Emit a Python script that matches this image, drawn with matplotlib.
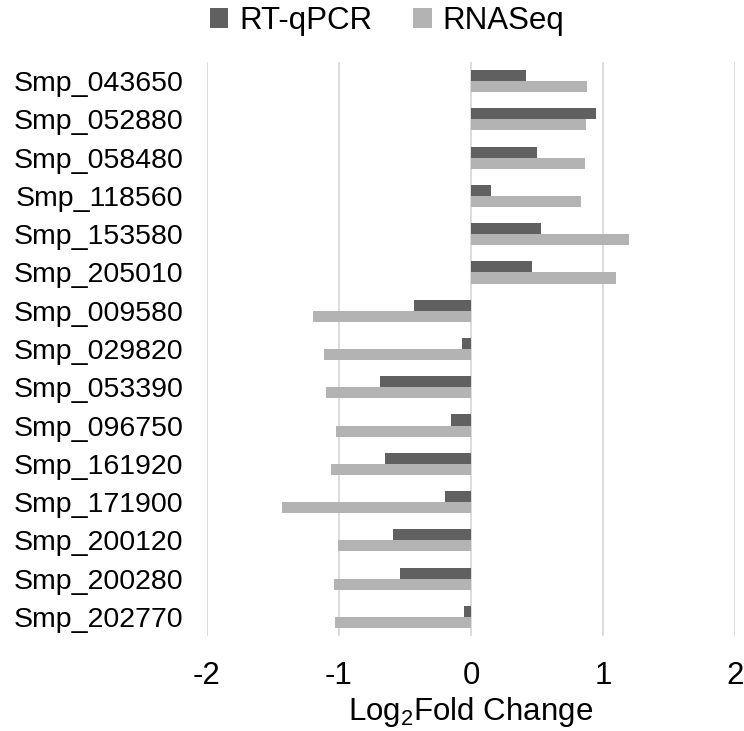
import numpy as np
import matplotlib
matplotlib.use("Agg")
import matplotlib.pyplot as plt

genes = ["Smp_043650", "Smp_052880", "Smp_058480", "Smp_118560", "Smp_153580",
         "Smp_205010", "Smp_009580", "Smp_029820", "Smp_053390", "Smp_096750",
         "Smp_161920", "Smp_171900", "Smp_200120", "Smp_200280", "Smp_202770"]
rt_qpcr = [0.42, 0.95, 0.50, 0.15, 0.53, 0.46, -0.43, -0.07, -0.69, -0.15,
           -0.65, -0.20, -0.59, -0.54, -0.05]
rnaseq = [0.88, 0.87, 0.86, 0.83, 1.20, 1.10, -1.20, -1.11, -1.10, -1.02,
          -1.06, -1.43, -1.01, -1.04, -1.03]
x_ticks = [-2, -1, 0, 1, 2]

plt.rcParams['font.family'] = ['Liberation Sans', 'DejaVu Sans']
plt.rcParams['mathtext.fontset'] = 'custom'
plt.rcParams['mathtext.rm'] = 'Liberation Sans'

fs = 22.5
fig = plt.figure(figsize=(7.44, 7.31), dpi=100)
ax = fig.add_axes([207 / 744, 1 - 636 / 731, 528 / 744, 574 / 731])

y = np.arange(len(genes))
h = 0.29
ax.barh(y - h / 2, rt_qpcr, height=h, color='#606060', label='RT-qPCR', zorder=3)
ax.barh(y + h / 2, rnaseq, height=h, color='#b3b3b3', label='RNASeq', zorder=3)

ax.set_xlim(-2, 2)
ax.set_ylim(len(genes) - 0.5, -0.5)
ax.set_xticks(x_ticks)
ax.set_xticklabels([str(t) for t in x_ticks])
ax.set_yticks(y)
ax.set_yticklabels(genes)
ax.tick_params(axis='both', length=0, colors='black')
ax.tick_params(axis='x', pad=18, labelsize=fs)
ax.tick_params(axis='y', pad=17, labelsize=20.5)
ax.grid(axis='x', color='#d9d9d9', linewidth=1.3, zorder=0)
for s in ax.spines.values():
    s.set_visible(False)

ax.set_xlabel(r'Log$_\mathregular{2}$Fold Change', fontsize=fs, labelpad=3)

fig.legend(loc='center', bbox_to_anchor=(387 / 744, 1 - 21 / 731), ncol=2,
           frameon=False, fontsize=fs, handlelength=0.6, handleheight=0.6,
           handletextpad=0.35, columnspacing=1.3)

fig.savefig("out.png", dpi=100)
